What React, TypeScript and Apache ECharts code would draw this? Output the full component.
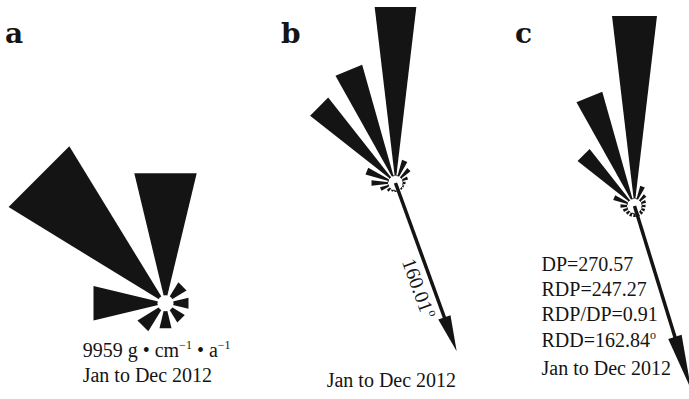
import React, { useEffect, useRef } from 'react';
import * as echarts from 'echarts';

// Compass bearings (degrees clockwise from north)
const bearings8 = [0, 45, 90, 135, 180, 225, 270, 315];
const bearings16 = [0, 22.5, 45, 67.5, 90, 112.5, 135, 157.5, 180, 202.5, 225, 247.5, 270, 292.5, 315, 337.5];

// Relative drift potential per direction (panel a: 8 directions, b & c: 16)
const valuesA = [130, 24, 23, 22, 25, 32, 72, 179];
const valuesB = [176, 24, 19, 13, 10, 9, 9, 9, 9, 9, 11, 16, 24, 31, 108, 122];
const valuesC = [190, 21, 15, 12, 11, 11, 11, 11, 11, 11, 11, 12, 14, 22, 72, 118];

// Resultant arrows
const rddB = 160.01;
const rdpLenB = 179;
const rddC = 162.84;
const rdpLenC = 192;

const FONT = '"Liberation Serif", "Times New Roman", serif';
const INK = '#141414';

function wedgeSeries(polarIndex: number, bearings: number[], values: number[], width: number) {
  const hw = width / 2;
  return {
    type: 'custom',
    coordinateSystem: 'polar',
    polarIndex,
    silent: true,
    data: values.map((v, i) => [v, bearings[i]]),
    renderItem: (params: any, api: any) => {
      const r = api.value(0);
      const a = api.value(1);
      const rr = r / Math.cos((hw * Math.PI) / 180);
      const c = api.coord([0, a]);
      const p1 = api.coord([rr, a - hw]);
      const p2 = api.coord([rr, a + hw]);
      return { type: 'polygon', shape: { points: [c, p1, p2] }, style: { fill: INK } };
    },
  };
}

function hubSeries(polarIndex: number, radius: number, outline: boolean) {
  return {
    type: 'custom',
    coordinateSystem: 'polar',
    polarIndex,
    silent: true,
    data: [[0, 0]],
    renderItem: (params: any, api: any) => {
      const c = api.coord([0, 0]);
      return {
        type: 'circle',
        shape: { cx: c[0], cy: c[1], r: radius },
        style: outline ? { fill: '#fff', stroke: INK, lineWidth: 1, lineDash: [2, 2] } : { fill: '#fff' },
      };
    },
  };
}

function arrowSeries(polarIndex: number, len: number, bearing: number, headLen: number, headW: number, label: boolean) {
  return {
    type: 'custom',
    coordinateSystem: 'polar',
    polarIndex,
    silent: true,
    data: [[len, bearing]],
    renderItem: (params: any, api: any) => {
      const L = api.value(0);
      const a = api.value(1);
      const c = api.coord([0, a]);
      const tip = api.coord([L, a]);
      const dx = tip[0] - c[0];
      const dy = tip[1] - c[1];
      const d = Math.sqrt(dx * dx + dy * dy);
      const ux = dx / d;
      const uy = dy / d;
      const nx = -uy;
      const ny = ux;
      const bx = tip[0] - ux * headLen;
      const by = tip[1] - uy * headLen;
      const children: any[] = [
        {
          type: 'line',
          shape: { x1: c[0], y1: c[1], x2: bx + ux * 2, y2: by + uy * 2 },
          style: { stroke: INK, lineWidth: 3.5 },
        },
        {
          type: 'polygon',
          shape: {
            points: [
              [tip[0], tip[1]],
              [bx + (nx * headW) / 2, by + (ny * headW) / 2],
              [bx - (nx * headW) / 2, by - (ny * headW) / 2],
            ],
          },
          style: { fill: INK },
        },
      ];
      if (label) {
        const dist = 107;
        const off = 14;
        // offset to the left side of the arrow (toward smaller x)
        const px = c[0] + ux * dist + nx * off;
        const py = c[1] + uy * dist + ny * off;
        children.push({
          type: 'text',
          x: px,
          y: py,
          rotation: -Math.atan2(uy, ux),
          style: {
            text: a.toFixed(2) + '{sup|o}',
            font: `20px ${FONT}`,
            fill: INK,
            align: 'center',
            verticalAlign: 'middle',
            rich: {
              sup: { fontSize: 12, fontFamily: FONT, fill: INK, verticalAlign: 'top', padding: [0, 0, 10, 1] },
            },
          },
        });
      }
      return { type: 'group', children };
    },
  };
}

function polarDef(center: number[]) {
  return { center, radius: 200 };
}
function angleAxisDef(i: number) {
  return {
    polarIndex: i,
    type: 'value',
    min: 0,
    max: 360,
    startAngle: 90,
    clockwise: true,
    show: false,
  };
}
function radiusAxisDef(i: number) {
  return { polarIndex: i, type: 'value', min: 0, max: 200, show: false };
}

function txt(x: number, y: number, text: string, extra: any = {}) {
  return {
    type: 'text',
    x,
    y,
    silent: true,
    style: {
      text,
      font: `20px ${FONT}`,
      fill: INK,
      verticalAlign: 'middle',
      ...extra,
    },
  };
}

export default function App() {
  const ref = useRef<HTMLDivElement>(null);
  useEffect(() => {
    if (!ref.current) return;
    const chart = echarts.init(ref.current, undefined, { renderer: 'svg' });
    const supRich = {
      sup: { fontSize: 12, fontFamily: FONT, fill: INK, verticalAlign: 'top', padding: [0, 0, 10, 0] },
    };
    chart.setOption({
      animation: false,
      backgroundColor: '#ffffff',
      polar: [polarDef([165.5, 303.3]), polarDef([395.5, 183]), polarDef([634.5, 206])],
      angleAxis: [angleAxisDef(0), angleAxisDef(1), angleAxisDef(2)],
      radiusAxis: [radiusAxisDef(0), radiusAxisDef(1), radiusAxisDef(2)],
      series: [
        wedgeSeries(0, bearings8, valuesA, 27),
        hubSeries(0, 8, false),
        wedgeSeries(1, bearings16, valuesB, 13.5),
        hubSeries(1, 7.5, true),
        arrowSeries(1, rdpLenB, rddB, 36, 13, true),
        wedgeSeries(2, bearings16, valuesC, 13.5),
        hubSeries(2, 7.5, true),
        arrowSeries(2, rdpLenC, rddC, 55, 14, false),
      ],
      graphic: [
        txt(5, 33, 'a', { font: `bold 28px "DejaVu Serif", serif` }),
        txt(281, 33, 'b', { font: `bold 28px "DejaVu Serif", serif` }),
        txt(515, 33, 'c', { font: `bold 28px "DejaVu Serif", serif` }),
        txt(82.7, 350, '9959 g • cm{sup|−1} • a{sup|−1}', { rich: supRich }),
        txt(82.7, 375, 'Jan to Dec 2012'),
        txt(326.7, 380, 'Jan to Dec 2012'),
        txt(541.5, 263.5, 'DP=270.57'),
        txt(541.5, 288.5, 'RDP=247.27'),
        txt(541.5, 313.5, 'RDP/DP=0.91'),
        txt(541.5, 340, 'RDD=162.84{sup|o}', { rich: supRich }),
        txt(541.5, 367.5, 'Jan to Dec 2012'),
      ],
    });
    return () => chart.dispose();
  }, []);
  return (
    <div
      ref={ref}
      style={{ position: 'fixed', left: 0, top: 0, width: 689, height: 399, background: '#fff' }}
    />
  );
}
